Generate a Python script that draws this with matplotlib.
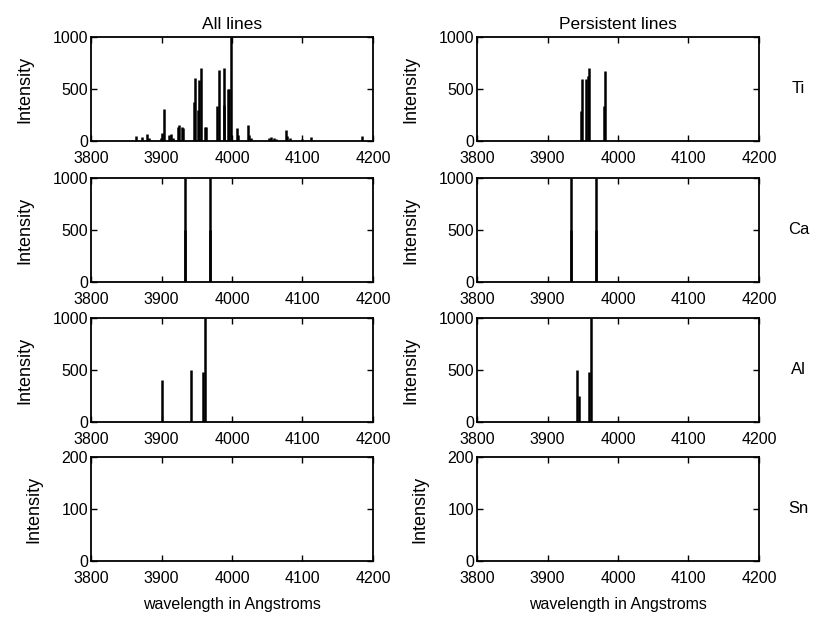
import matplotlib
matplotlib.use('Agg')
import matplotlib.pyplot as plt
import numpy as np

plt.rcParams['font.family'] = ['Liberation Sans', 'DejaVu Sans']

# line lists (wavelength in Angstroms, intensity)
ti_all_wl = [3864, 3873, 3880, 3882, 3899, 3901, 3904, 3911, 3913, 3917, 3923, 3925,
             3929, 3930, 3946, 3948, 3952, 3953, 3956, 3962, 3963, 3979, 3981, 3988,
             3989, 3995, 3996, 3998.6, 4007, 4009, 4022, 4024, 4027, 4053, 4056, 4059,
             4062, 4076, 4078, 4082, 4099, 4112, 4184]
ti_all_int = [50, 40, 65, 30, 30, 80, 310, 60, 70, 30, 130, 150,
              130, 120, 370, 610, 300, 590, 700, 130, 130, 340, 680, 700,
              350, 500, 500, 1000, 120, 60, 150, 60, 30, 30, 40, 30,
              20, 110, 50, 30, 20, 40, 50]
ti_pers_wl = [3947, 3949, 3955, 3957, 3958.5, 3980, 3982]
ti_pers_int = [290, 600, 600, 620, 700, 340, 670]

ca_all_wl = [3933.0, 3933.7, 3968.5, 3969.0]
ca_all_int = [500, 1000, 1000, 500]
ca_pers_wl = [3933.0, 3933.7, 3968.5, 3969.0]
ca_pers_int = [500, 1000, 1000, 500]

al_all_wl = [3900, 3942, 3959, 3961.5]
al_all_int = [400, 500, 480, 1000]
al_pers_wl = [3942, 3944, 3959, 3961.5]
al_pers_int = [500, 250, 480, 1000]

sn_all_wl, sn_all_int = [], []
sn_pers_wl, sn_pers_int = [], []

elements = ['Ti', 'Ca', 'Al', 'Sn']
all_lines = [(ti_all_wl, ti_all_int), (ca_all_wl, ca_all_int),
             (al_all_wl, al_all_int), (sn_all_wl, sn_all_int)]
pers_lines = [(ti_pers_wl, ti_pers_int), (ca_pers_wl, ca_pers_int),
              (al_pers_wl, al_pers_int), (sn_pers_wl, sn_pers_int)]
ymax = [1000, 1000, 1000, 200]

fig = plt.figure(figsize=(8.23, 6.23), dpi=100)

bottoms = [0.7737, 0.5474, 0.3226, 0.0995]
lefts = [0.1106, 0.5796]
w, h = 0.3426, 0.167

for r in range(4):
    for c in range(2):
        ax = fig.add_axes([lefts[c], bottoms[r], w, h])
        wl, it = (all_lines if c == 0 else pers_lines)[r]
        if len(wl):
            ax.vlines(wl, 0, it, color='k', lw=1.8)
        ax.set_xlim(3800, 4200)
        ax.set_ylim(0, ymax[r])
        ax.set_xticks(np.arange(3800, 4201, 100))
        ax.set_yticks([0, ymax[r] / 2, ymax[r]])
        ax.set_yticklabels([str(int(v)) for v in [0, ymax[r] / 2, ymax[r]]])
        ax.tick_params(direction='in', length=4, width=1, top=True, right=True,
                       labelsize=11.5)
        ax.tick_params(axis='x', pad=7)
        ax.tick_params(axis='y', pad=2)
        for s in ax.spines.values():
            s.set_linewidth(1.3)
        ax.set_ylabel('Intensity', fontsize=13, labelpad=14)
        if r == 0:
            ax.set_title('All lines' if c == 0 else 'Persistent lines', fontsize=12.5, pad=6)
        if r == 3:
            ax.set_xlabel('wavelength in Angstroms', fontsize=11.5, labelpad=8)
        if c == 1:
            ax.text(1.14, 0.5, elements[r], transform=ax.transAxes, fontsize=12,
                    va='center', ha='center')

fig.savefig('out.png', dpi=100)
